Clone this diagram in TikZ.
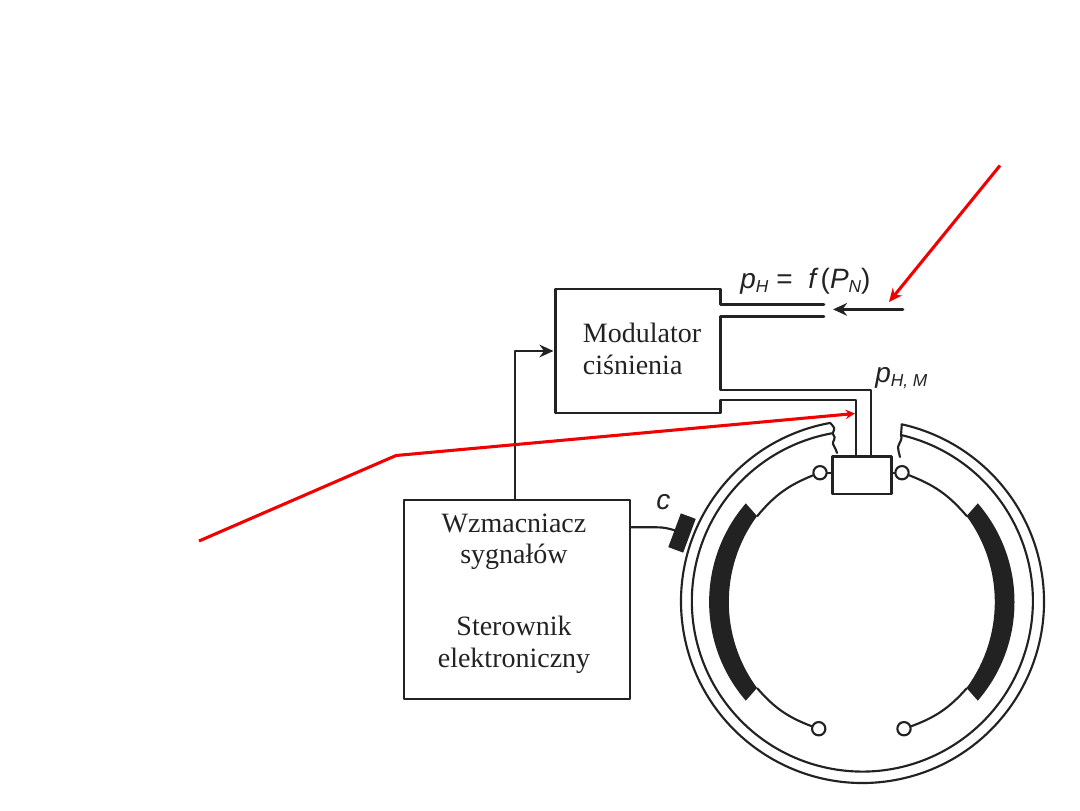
\documentclass[tikz,border=0pt]{standalone}
\usepackage{fontspec}
\setmainfont{Liberation Serif}
\newfontfamily\labelfont{Liberation Sans}
\usepackage{xcolor}
\usetikzlibrary{arrows.meta,positioning,calc}
\definecolor{ink}{HTML}{222222}
\definecolor{callout}{HTML}{F00000}
\tikzset{
    every picture/.style={line cap=round,line join=round},
    blockline/.style={draw=ink,line width=1.95pt},
    drumline/.style={draw=ink,line width=1.6pt},
    blocktext/.style={text=ink,inner sep=0pt,align=center,
      font=\fontsize{21}{23.8}\selectfont},
    symtext/.style={text=ink,inner sep=0pt,anchor=base west,
      font=\labelfont\itshape\fontsize{21}{24}\selectfont},
    pivot/.style={circle,draw=ink,fill=white,line width=1.6pt,
      minimum size=10pt,inner sep=0pt},
    flowarrow/.style={-{Stealth[length=10.5pt,width=9.5pt]},blockline},
    redarrow/.style={draw=callout,line width=2.3pt,line cap=butt},
}
\newcommand{\subfont}{\fontsize{13}{15}\selectfont}

\begin{document}
\begin{tikzpicture}[x=0.75pt,y=0.75pt]
    \useasboundingbox (0,0) rectangle (1080,-810);
    % pressure modulator, outline is left open where the pipes leave
    \node[minimum width=123.4pt,minimum height=92.5pt,inner sep=0pt] (modulator) at (638,-351) {};
    \node[blocktext,align=left] (modtext) at (642,-349) {Modulator\\ciśnienia};
    % amplifier and controller block
    \node[blockline,minimum width=169.5pt,minimum height=149.3pt,inner sep=0pt] (amp) at (517,-599.5) {};
    \node[blocktext] (amptext) at (514,-593.5) {Wzmacniacz\\sygnałów\\[30pt]Sterownik\\elektroniczny};
    % wheel cylinder
    \node[blockline,fill=white,minimum width=44.6pt,minimum height=28pt,inner sep=0pt] (cylinder) at (862,-475.3) {};
    \coordinate (inlettop) at (824,-304.5);
    \coordinate (inletlow) at (824,-316.3);
    \coordinate (outtop) at (871,-390);
    \coordinate (outlow) at (856,-400);
    \draw[blockline] (inlettop) -- (modulator.east |- inlettop) -- (modulator.north east)
        -- (modulator.north west) -- (modulator.south west) -- (modulator.south east)
        -- (modulator.east |- outlow) -- (outlow) -- (outlow |- cylinder.north);
    \draw[blockline] (inletlow) -- (modulator.east |- inletlow) -- (modulator.east |- outtop)
        -- (outtop) -- (outtop |- cylinder.north);
    % brake drum with its two broken ends
    \coordinate (center) at (862.5,-601.5);
    \draw[drumline] ([shift={(100.3:181.5)}]center) arc[start angle=100.3,end angle=437.5,radius=181.5]
        .. controls (901,-429) .. (901,-435)
        arc[start angle=436.9,end angle=100,radius=170.5]
        .. controls (835,-428) .. cycle;
    \draw[drumline] (833,-434) .. controls (837,-439) and (832,-441) .. (833,-444)
        .. controls (834,-447) and (836,-449) .. (837,-453);
    \draw[drumline] (901,-435) .. controls (903,-439) and (899,-443) .. (898,-447)
        .. controls (898,-450) and (899,-453) .. (900,-457);
    % friction linings, the right one is mirrored
    \foreach \s in {1,-1}
        \fill[ink,shift={(861.8,-602)},xscale=\s] ([shift={(139.2:151)}]-1.7,0)
            arc[start angle=139.2,end angle=220.8,radius=151]
            -- ([shift={(216.4:144.8)}]11.8,0)
            arc[start angle=216.4,end angle=143.6,radius=144.8] -- cycle;
    % shoe webs and pivots
    \node[pivot] (pivottl) at (820,-472.7) {};
    \node[pivot] (pivottr) at (902,-472.7) {};
    \node[pivot] (pivotbl) at (818.7,-728.7) {};
    \node[pivot] (pivotbr) at (904,-728.7) {};
    \coordinate (shoetl) at (757.3,-516);
    \coordinate (shoetr) at (966.7,-516);
    \coordinate (shoebl) at (757.3,-688.3);
    \coordinate (shoebr) at (966.7,-688.3);
    \draw[drumline] (pivottl) to[bend right=14] (shoetl);
    \draw[drumline] (pivottr) to[bend left=14] (shoetr);
    \draw[drumline] (shoebl) to[bend right=14] (pivotbl);
    \draw[drumline] (shoebr) to[bend left=14] (pivotbr);
    \draw[drumline] (pivottl) -- (pivottl -| cylinder.west);
    \draw[drumline] (pivottr) -- (pivottr -| cylinder.east);
    % speed sensor
    \node[fill=ink,minimum width=27pt,minimum height=11.9pt,inner sep=0pt,rotate=69.6] (sensor) at (682,-533) {};
    \coordinate (sigbend) at (657,-527.3);
    \draw[drumline] (amp.east |- sigbend) -- (sigbend) to[out=0,in=165] (sensor.north);
    % control line and supply pressure
    \draw[flowarrow,shorten >=1.5pt] (amp.north -| 515,0) |- (modulator.west);
    \coordinate (supply) at (903,-309.4);
    \coordinate (supplytip) at (833,-309.4);
    \draw[flowarrow] (supply) -- (supplytip);
    % symbols
    \node[symtext] (pH) at (740,-288) {p\raisebox{-3.5pt}{\subfont H}\kern6pt\upshape=\ \ \itshape f\,\upshape(\itshape P\raisebox{-3.5pt}{\subfont N}\upshape)};
    \node[symtext] (pHM) at (875,-382) {p\raisebox{-3.5pt}{\subfont H, M}};
    \node[symtext] (c) at (656,-509) {c};
    % callouts
    \coordinate (callouta) at (1000,-165.5);
    \coordinate (calloutatip) at (889,-302);
    \coordinate (calloutb) at (199,-541);
    \coordinate (calloutbend) at (396,-455.5);
    \coordinate (calloutbtip) at (855,-413.5);
    \draw[redarrow,-{Stealth[length=10pt,width=9pt]}] (callouta) -- (calloutatip);
    \draw[redarrow,-{Stealth[length=7pt,width=7pt]}] (calloutb) -- (calloutbend) -- (calloutbtip);
\end{tikzpicture}
\end{document}
